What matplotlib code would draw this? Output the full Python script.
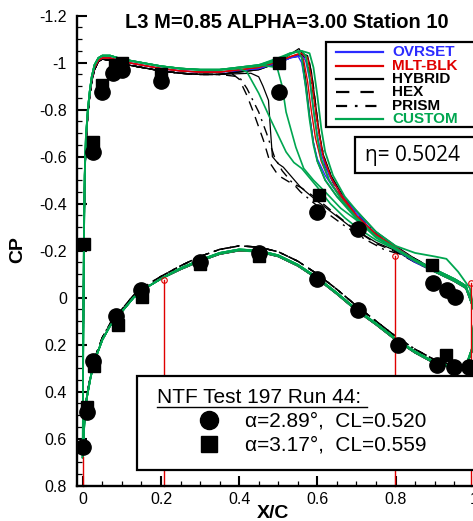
import matplotlib
matplotlib.use("Agg")
import matplotlib.pyplot as plt
from matplotlib.lines import Line2D
from matplotlib.patches import Rectangle
from matplotlib.ticker import MultipleLocator, FuncFormatter

# ---------------- data ----------------
TITLE = "L3 M=0.85 ALPHA=3.00 Station 10"
ETA_TEXT = "\u03b7= 0.5024"
EXP_TITLE = "NTF Test 197 Run 44:"
EXP_LABELS = ["\u03b1=2.89\u00b0,  CL=0.520", "\u03b1=3.17\u00b0,  CL=0.559"]
LEGEND_NAMES = ["OVRSET", "MLT-BLK", "HYBRID", "HEX", "PRISM", "CUSTOM"]

# upper surface, leading edge + plateau (shared stations)
X_FRONT = [0.0, 0.001, 0.003, 0.005, 0.008, 0.013, 0.018, 0.023, 0.03, 0.04, 0.05, 0.07, 0.10, 0.15, 0.20, 0.25, 0.30, 0.35]
CP_FRONT_G = [0.68, 0.25, -0.25, -0.52, -0.68, -0.80, -0.88, -0.94, -0.99, -1.02, -1.03, -1.03, -1.015, -1.0, -0.985, -0.975, -0.97, -0.97]
CP_FRONT_B = [0.68, 0.25, -0.24, -0.50, -0.66, -0.79, -0.87, -0.93, -0.98, -1.01, -1.02, -1.02, -1.005, -0.99, -0.975, -0.965, -0.96, -0.96]
CP_FRONT_K = [0.68, 0.24, -0.23, -0.49, -0.65, -0.78, -0.86, -0.92, -0.97, -1.005, -1.015, -1.01, -0.995, -0.98, -0.965, -0.955, -0.95, -0.95]

# lower surface (shared stations)
X_LOW = [0.0, 0.002, 0.005, 0.01, 0.02, 0.03, 0.05, 0.07, 0.10, 0.13, 0.17, 0.20, 0.25, 0.30, 0.35, 0.40, 0.45, 0.50, 0.55, 0.60, 0.65, 0.70, 0.75, 0.80, 0.85, 0.90, 0.95, 0.98, 0.995, 1.0]
CP_LOW_G = [0.68, 0.60, 0.51, 0.43, 0.34, 0.27, 0.18, 0.12, 0.06, 0.0, -0.05, -0.08, -0.125, -0.16, -0.19, -0.205, -0.20, -0.18, -0.14, -0.085, -0.02, 0.05, 0.11, 0.175, 0.23, 0.275, 0.295, 0.29, 0.22, 0.12]
CP_LOW_B = [0.68, 0.60, 0.51, 0.43, 0.34, 0.27, 0.18, 0.12, 0.06, 0.0, -0.05, -0.08, -0.12, -0.155, -0.185, -0.20, -0.195, -0.175, -0.135, -0.08, -0.015, 0.055, 0.115, 0.18, 0.235, 0.28, 0.30, 0.295, 0.23, 0.12]
CP_LOW_K = [0.68, 0.60, 0.50, 0.42, 0.33, 0.26, 0.17, 0.11, 0.05, -0.01, -0.06, -0.09, -0.135, -0.175, -0.205, -0.22, -0.215, -0.195, -0.155, -0.10, -0.035, 0.035, 0.10, 0.165, 0.22, 0.265, 0.29, 0.285, 0.22, 0.12]

# upper surface, shock and aft part of each computed solution
G1_X = [0.45, 0.50, 0.53, 0.55, 0.56, 0.57, 0.58, 0.59, 0.60, 0.62, 0.65, 0.70, 0.75, 0.80, 0.85, 0.90, 0.95, 0.98, 1.0]
G1_CP = [-0.985, -1.01, -1.035, -1.05, -1.02, -0.90, -0.76, -0.65, -0.58, -0.50, -0.43, -0.335, -0.255, -0.205, -0.155, -0.11, -0.07, -0.04, 0.05]
G2_X = [0.45, 0.50, 0.53, 0.56, 0.57, 0.58, 0.59, 0.60, 0.61, 0.63, 0.66, 0.70, 0.75, 0.80, 0.85, 0.90, 0.95, 0.98, 1.0]
G2_CP = [-0.99, -1.015, -1.04, -1.05, -1.03, -0.94, -0.80, -0.68, -0.59, -0.50, -0.42, -0.34, -0.26, -0.21, -0.16, -0.12, -0.08, -0.05, 0.05]
G3_X = [0.45, 0.50, 0.53, 0.56, 0.58, 0.59, 0.60, 0.61, 0.62, 0.64, 0.67, 0.70, 0.75, 0.80, 0.85, 0.90, 0.93, 0.96, 0.99, 1.0]
G3_CP = [-0.99, -1.02, -1.04, -1.05, -1.04, -0.98, -0.86, -0.72, -0.62, -0.52, -0.43, -0.37, -0.28, -0.22, -0.19, -0.175, -0.165, -0.11, -0.04, 0.05]
G4_X = [0.40, 0.42, 0.45, 0.48, 0.50, 0.52, 0.54, 0.56, 0.60, 0.633, 0.67, 0.70, 0.75, 0.80, 0.85, 0.90, 0.95, 0.98, 1.0]
G4_CP = [-0.975, -0.96, -0.87, -0.76, -0.69, -0.62, -0.575, -0.55, -0.47, -0.40, -0.34, -0.30, -0.245, -0.205, -0.16, -0.115, -0.075, -0.045, 0.05]
G5_X = [0.45, 0.497, 0.51, 0.52, 0.545, 0.565, 0.59, 0.62, 0.66, 0.70, 0.75, 0.80, 0.85, 0.90, 0.95, 0.98, 1.0]
G5_CP = [-0.99, -0.98, -0.90, -0.79, -0.64, -0.55, -0.50, -0.45, -0.38, -0.33, -0.26, -0.21, -0.16, -0.12, -0.08, -0.05, 0.05]

O1_X = [0.45, 0.50, 0.53, 0.55, 0.56, 0.57, 0.58, 0.59, 0.60, 0.62, 0.64, 0.67, 0.70, 0.75, 0.79, 0.85, 0.90, 0.95, 0.98, 1.0]
O1_CP = [-0.975, -1.0, -1.02, -1.03, -1.0, -0.90, -0.77, -0.66, -0.59, -0.52, -0.47, -0.41, -0.35, -0.27, -0.215, -0.15, -0.11, -0.07, -0.04, 0.05]
O2_X = [0.45, 0.50, 0.53, 0.56, 0.57, 0.58, 0.59, 0.60, 0.61, 0.63, 0.66, 0.70, 0.75, 0.80, 0.85, 0.90, 0.95, 0.98, 1.0]
O2_CP = [-0.975, -1.0, -1.02, -1.03, -1.01, -0.93, -0.80, -0.69, -0.61, -0.52, -0.44, -0.36, -0.28, -0.215, -0.16, -0.115, -0.075, -0.045, 0.05]

M1_X = [0.45, 0.50, 0.53, 0.555, 0.565, 0.575, 0.585, 0.595, 0.61, 0.63, 0.66, 0.70, 0.75, 0.80, 0.85, 0.90, 0.95, 0.98, 1.0]
M1_CP = [-0.98, -1.005, -1.025, -1.04, -1.01, -0.92, -0.79, -0.68, -0.58, -0.50, -0.43, -0.345, -0.265, -0.21, -0.155, -0.11, -0.07, -0.04, 0.05]
M2_X = [0.45, 0.50, 0.53, 0.56, 0.575, 0.585, 0.595, 0.605, 0.615, 0.635, 0.66, 0.70, 0.75, 0.80, 0.85, 0.90, 0.95, 0.98, 1.0]
M2_CP = [-0.98, -1.005, -1.025, -1.04, -1.02, -0.93, -0.80, -0.69, -0.60, -0.51, -0.44, -0.35, -0.27, -0.215, -0.16, -0.115, -0.075, -0.045, 0.05]

H1_X = [0.45, 0.50, 0.53, 0.553, 0.56, 0.57, 0.58, 0.59, 0.60, 0.62, 0.65, 0.70, 0.75, 0.80, 0.85, 0.90, 0.95, 0.98, 1.0]
H1_CP = [-0.97, -1.0, -1.035, -1.06, -1.04, -0.93, -0.78, -0.66, -0.58, -0.50, -0.43, -0.34, -0.26, -0.21, -0.16, -0.115, -0.075, -0.045, 0.05]
H2_X = [0.45, 0.50, 0.53, 0.56, 0.575, 0.585, 0.595, 0.605, 0.615, 0.635, 0.67, 0.70, 0.75, 0.80, 0.85, 0.90, 0.95, 0.98, 1.0]
H2_CP = [-0.97, -1.0, -1.02, -1.04, -1.03, -0.96, -0.83, -0.70, -0.61, -0.52, -0.42, -0.37, -0.28, -0.22, -0.165, -0.12, -0.08, -0.05, 0.05]
H3_X = [0.43, 0.45, 0.461, 0.475, 0.48, 0.485, 0.50, 0.513, 0.557, 0.60, 0.686, 0.75, 0.80, 0.85, 0.90, 0.95, 0.98, 1.0]
H3_CP = [-0.955, -0.94, -0.90, -0.84, -0.715, -0.60, -0.57, -0.555, -0.47, -0.41, -0.30, -0.235, -0.20, -0.15, -0.11, -0.07, -0.04, 0.05]

X1_X = [0.45, 0.50, 0.53, 0.56, 0.58, 0.59, 0.60, 0.61, 0.62, 0.64, 0.67, 0.70, 0.75, 0.80, 0.85, 0.90, 0.95, 0.98, 1.0]
X1_CP = [-0.98, -1.0, -1.02, -1.035, -1.0, -0.90, -0.76, -0.64, -0.56, -0.49, -0.41, -0.35, -0.27, -0.215, -0.165, -0.12, -0.08, -0.05, 0.05]
X2_X = [0.38, 0.40, 0.42, 0.437, 0.462, 0.48, 0.50, 0.53, 0.557, 0.60, 0.65, 0.70, 0.75, 0.80, 0.85, 0.90, 0.95, 0.98, 1.0]
X2_CP = [-0.955, -0.93, -0.86, -0.787, -0.67, -0.57, -0.52, -0.49, -0.47, -0.42, -0.35, -0.285, -0.23, -0.195, -0.15, -0.11, -0.07, -0.04, 0.05]

P1_X = [0.40, 0.42, 0.45, 0.47, 0.49, 0.51, 0.53, 0.557, 0.60, 0.666, 0.72, 0.77, 0.82, 0.87, 0.92, 0.96, 0.99, 1.0]
P1_CP = [-0.94, -0.89, -0.79, -0.70, -0.60, -0.54, -0.50, -0.45, -0.39, -0.31, -0.25, -0.205, -0.18, -0.14, -0.10, -0.06, -0.03, 0.05]
P2_X = [0.45, 0.50, 0.53, 0.56, 0.575, 0.585, 0.595, 0.605, 0.62, 0.64, 0.67, 0.70, 0.75, 0.80, 0.85, 0.90, 0.95, 0.98, 1.0]
P2_CP = [-0.975, -1.0, -1.02, -1.03, -1.0, -0.92, -0.80, -0.69, -0.58, -0.50, -0.42, -0.36, -0.275, -0.215, -0.165, -0.12, -0.08, -0.05, 0.05]

# red spikes of the MLT-BLK solution
RED_SPIKE_X = [0.0, 0.209, 0.798, 0.992]
RED_SPIKE_TOP = [0.68, -0.075, -0.175, -0.06]
RED_SPIKE_BOTTOM = 0.8

# experiment
EXP1_X = [0.026, 0.049, 0.078, 0.10, 0.199, 0.503, 0.60, 0.704, 0.897, 0.931, 0.952,
          0.0, 0.01, 0.026, 0.085, 0.15, 0.30, 0.45, 0.60, 0.704, 0.805, 0.906, 0.95, 0.988]
EXP1_CP = [-0.62, -0.877, -0.955, -0.97, -0.92, -0.877, -0.366, -0.294, -0.06, -0.034, -0.004,
           0.634, 0.485, 0.272, 0.08, -0.034, -0.153, -0.19, -0.08, 0.055, 0.20, 0.285, 0.294, 0.294]
EXP2_X = [0.003, 0.026, 0.049, 0.083, 0.10, 0.199, 0.503, 0.605, 0.893,
          0.01, 0.03, 0.09, 0.151, 0.30, 0.45, 0.93]
EXP2_CP = [-0.226, -0.664, -0.906, -0.99, -1.0, -0.95, -1.0, -0.438, -0.14,
           0.464, 0.29, 0.115, -0.004, -0.145, -0.175, 0.243]

# ---------------- styles ----------------
BLUE = "#2b2bff"
RED = "#e00000"
GREEN = "#00a650"
BLACK = "#000000"
DASH = (0, (7, 5))
DASHDOT = (0, (7, 4, 1.5, 4))

CURVES = [
    # (front, aft_x, aft_cp, lower, color, style, lw)
    (CP_FRONT_K, X2_X, X2_CP, CP_LOW_K, BLACK, DASH, 1.0),
    (CP_FRONT_K, P1_X, P1_CP, CP_LOW_K, BLACK, DASHDOT, 1.0),
    (CP_FRONT_K, X1_X, X1_CP, CP_LOW_K, BLACK, DASH, 1.0),
    (CP_FRONT_K, P2_X, P2_CP, CP_LOW_K, BLACK, DASHDOT, 1.0),
    (CP_FRONT_K, H3_X, H3_CP, CP_LOW_B, BLACK, "-", 0.9),
    (CP_FRONT_K, H1_X, H1_CP, CP_LOW_B, BLACK, "-", 0.9),
    (CP_FRONT_K, H2_X, H2_CP, CP_LOW_B, BLACK, "-", 0.9),
    (CP_FRONT_B, O1_X, O1_CP, CP_LOW_B, BLUE, "-", 1.0),
    (CP_FRONT_B, O2_X, O2_CP, CP_LOW_B, BLUE, "-", 1.0),
    (CP_FRONT_B, M1_X, M1_CP, CP_LOW_B, RED, "-", 1.0),
    (CP_FRONT_B, M2_X, M2_CP, CP_LOW_B, RED, "-", 1.0),
    (CP_FRONT_G, G4_X, G4_CP, CP_LOW_G, GREEN, "-", 1.2),
    (CP_FRONT_G, G5_X, G5_CP, CP_LOW_G, GREEN, "-", 1.2),
    (CP_FRONT_G, G1_X, G1_CP, CP_LOW_G, GREEN, "-", 1.3),
    (CP_FRONT_G, G2_X, G2_CP, CP_LOW_B, GREEN, "-", 1.3),
    (CP_FRONT_G, G3_X, G3_CP, CP_LOW_G, GREEN, "-", 1.3),
]

W, H = 473, 521
fig = plt.figure(figsize=(W / 100, H / 100), dpi=100)
plt.rcParams["font.family"] = ["Liberation Sans", "DejaVu Sans"]

def fx(px):
    return px / W

def fy(py):
    return 1 - py / H

XMIN, XMAX = -0.016, 1.1
ax_left, ax_bottom_px, ax_top_px = 76.5, 485.5, 15.7
ax_right_px = ax_left + (XMAX - XMIN) * 391.0
ax = fig.add_axes([fx(ax_left), fy(ax_bottom_px), (ax_right_px - ax_left) / W,
                   (ax_bottom_px - ax_top_px) / H])
ax.set_xlim(XMIN, XMAX)
ax.set_ylim(0.8, -1.2)

for front, ax_x, ax_cp, low, col, ls, lw in CURVES:
    ax.plot(list(X_FRONT) + list(ax_x), list(front) + list(ax_cp), color=col, ls=ls, lw=lw)
    ax.plot(X_LOW, low, color=col, ls=ls, lw=lw)

for sx, st in zip(RED_SPIKE_X, RED_SPIKE_TOP):
    ax.plot([sx, sx], [st, RED_SPIKE_BOTTOM], color=RED, lw=1.0, clip_on=False)
ax.plot(RED_SPIKE_X[1:], RED_SPIKE_TOP[1:], ls="none", marker="o", ms=4, mfc="none", mec=RED, mew=0.8)

ax.plot(EXP1_X, EXP1_CP, ls="none", marker="o", ms=11, color="black", zorder=5)
ax.plot(EXP2_X, EXP2_CP, ls="none", marker="s", ms=9, color="black", zorder=5)

# axes styling
for s in ["top", "right"]:
    ax.spines[s].set_visible(False)
for s in ["left", "bottom"]:
    ax.spines[s].set_linewidth(1.7)
ax.xaxis.set_major_locator(MultipleLocator(0.2))
ax.xaxis.set_minor_locator(MultipleLocator(0.05))
ax.yaxis.set_major_locator(MultipleLocator(0.2))
ax.yaxis.set_minor_locator(MultipleLocator(0.05))
fmt = FuncFormatter(lambda v, p: ("%g" % round(v, 3)) if abs(v) > 1e-9 else "0")
ax.xaxis.set_major_formatter(fmt)
ax.yaxis.set_major_formatter(fmt)
ax.tick_params(which="major", direction="in", length=7.5, width=1.5, labelsize=11.5)
ax.tick_params(which="minor", direction="in", length=3.8, width=0.9)
ax.tick_params(axis="y", which="major", pad=7)
ax.tick_params(axis="x", which="major", pad=5)
ax.patch.set_visible(False)

# title and axis labels
fig.text(fx(287), fy(28), TITLE, ha="center", va="baseline", fontsize=14.5, fontweight="bold")
fig.text(fx(18), fy(250), "CP", ha="center", va="center", rotation=90, fontsize=14, fontweight="bold")
fig.text(fx(273), fy(513), "X/C", ha="center", va="center", fontsize=14, fontweight="bold")

# method legend
fig.add_artist(Rectangle((fx(326), fy(127)), fx(490) - fx(326), fy(42) - fy(127),
                         transform=fig.transFigure, fc="white", ec="black", lw=1.6, zorder=10))
leg_styles = [(BLUE, "-"), (RED, "-"), (BLACK, "-"), (BLACK, (0, (6, 5))), (BLACK, (0, (5, 3.5, 1.2, 3.5))), (GREEN, "-")]
leg_colors = [BLUE, RED, BLACK, BLACK, BLACK, GREEN]
leg_y = [52, 65.5, 79, 92.5, 106, 119]
for name, (c, ls), tc, yy in zip(LEGEND_NAMES, leg_styles, leg_colors, leg_y):
    fig.add_artist(Line2D([fx(336), fx(383)], [fy(yy), fy(yy)], transform=fig.transFigure,
                          color=c, ls=ls, lw=1.6, zorder=11))
    fig.text(fx(392), fy(yy), name, ha="left", va="center", fontsize=11, fontweight="bold",
             color=tc, zorder=11)

# eta box
fig.add_artist(Rectangle((fx(355), fy(173)), fx(490) - fx(355), fy(137) - fy(173),
                         transform=fig.transFigure, fc="white", ec="black", lw=1.6, zorder=10))
fig.text(fx(365), fy(156), ETA_TEXT, ha="left", va="center", fontsize=15,
         family=["Open Sans", "DejaVu Sans"], zorder=11)

# experiment box
fig.add_artist(Rectangle((fx(137), fy(470)), fx(490) - fx(137), fy(376) - fy(470),
                         transform=fig.transFigure, fc="white", ec="black", lw=1.6, zorder=10))
fig.text(fx(157), fy(403), EXP_TITLE, ha="left", va="baseline", fontsize=15, zorder=11)
fig.add_artist(Line2D([fx(157), fx(367)], [fy(407), fy(407)], transform=fig.transFigure,
                      color="black", lw=1.0, zorder=11))
for yy, mk, ms, lab in zip([420, 444], ["o", "s"], [13, 12], EXP_LABELS):
    fig.add_artist(Line2D([fx(209)], [fy(yy)], transform=fig.transFigure, ls="none",
                          marker=mk, ms=ms, color="black", zorder=11))
    fig.text(fx(245), fy(yy + 1), lab, ha="left", va="center", fontsize=15, zorder=11)

fig.savefig("out.png", dpi=100)
